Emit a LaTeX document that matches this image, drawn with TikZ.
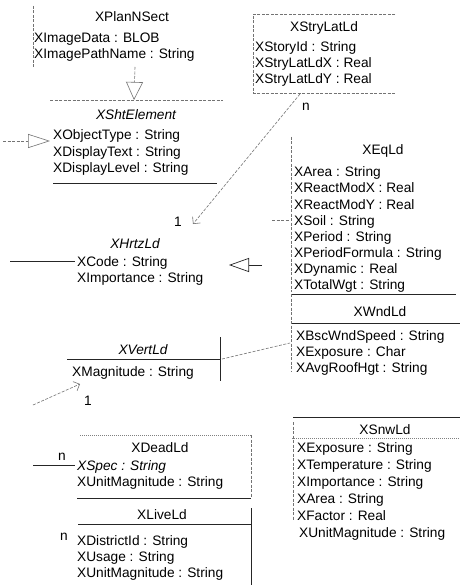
\documentclass[tikz,border=0pt]{standalone}
\usepackage{fontspec}
\setmainfont{Liberation Sans}
\usetikzlibrary{arrows.meta}
\begin{document}
\begin{tikzpicture}[x=1pt,y=-1pt,
  txt/.style={anchor=base west,inner sep=0pt,font=\fontsize{13.7}{16}\selectfont},
  itxt/.style={txt,font=\fontsize{13.7}{16}\selectfont\itshape},
  ttl/.style={anchor=base,inner sep=0pt,font=\fontsize{13.7}{16}\selectfont},
  ittl/.style={ttl,font=\fontsize{13.7}{16}\selectfont\itshape},
  faint/.style={draw=black!55,line width=0.6pt,dash pattern=on 3pt off 1.5pt},
  dotln/.style={draw=black!50,line width=0.6pt,dash pattern=on 1pt off 1pt},
  solidln/.style={draw=black!85,line width=0.7pt},
  gendown/.style={-{Triangle[open,length=18pt,width=17pt]}},
  genleft/.style={-{Triangle[open,length=22pt,width=14pt]}},
  genhrtz/.style={-{Triangle[open,length=20pt,width=14pt]}},
  assoc/.style={-{Straight Barb[length=5pt]}}
]
\useasboundingbox (0,0) rectangle (470,585);
\fill[white] (0,0) rectangle (470,585);

% XPlanNSect
\draw[faint] (33,6) -- (33,67);
\node[ttl] (planT) at (132,22) {XPlanNSect};
\node[txt] (planA1) at (34,43) {XImageData : BLOB};
\node[txt] (planA2) at (34,59) {XImagePathName : String};
\coordinate (planBot) at (135,67);
\coordinate (shtTop) at (134,100);
\draw[faint,gendown] (planBot) -- (shtTop);

% XShtElement
\draw[faint] (50,100) -- (223,100);
\node[ittl] (shtT) at (136,120) {XShtElement};
\node[txt] (shtA1) at (53,140) {XObjectType : String};
\node[txt] (shtA2) at (53,157) {XDisplayText : String};
\node[txt] (shtA3) at (53,173) {XDisplayLevel : String};
\draw[solidln] (53,183) -- (217,183);
\coordinate (shtLsrc) at (3,141);
\coordinate (shtL) at (50,141);
\draw[faint,genleft] (shtLsrc) -- (shtL);

% XStryLatLd
\draw[faint] (395,14) -- (253,14) -- (253,93) -- (395,93);
\node[ttl] (stryT) at (324,32) {XStryLatLd};
\node[txt] (stryA1) at (255,52) {XStoryId : String};
\node[txt] (stryA2) at (255,68) {XStryLatLdX : Real};
\node[txt] (stryA3) at (255,84) {XStryLatLdY : Real};
\node[ttl] (stryN) at (306,111) {n};
\coordinate (stryBot) at (300,94);
\coordinate (hrtzTip) at (193,224);
\draw[faint,assoc] (stryBot) -- (hrtzTip);
\node[ttl] (hrtzOne) at (178,226) {1};

% XHrtzLd
\node[ittl] (hrtzT) at (135,248) {XHrtzLd};
\node[txt] (hrtzA1) at (77,266) {XCode : String};
\node[txt] (hrtzA2) at (77,282) {XImportance : String};
\coordinate (hrtzLsrc) at (10,261);
\coordinate (hrtzL) at (75,261);
\draw[solidln] (hrtzLsrc) -- (hrtzL);
\coordinate (eqGenSrc) at (262,265);
\coordinate (hrtzGenTip) at (229,265);
\draw[solidln,genhrtz] (eqGenSrc) -- (hrtzGenTip);

% XEqLd
\draw[faint] (291,137) -- (291,292);
\node[ttl] (eqT) at (383,155) {XEqLd};
\node[txt] (eqA1) at (294,177) {XArea : String};
\node[txt] (eqA2) at (294,193) {XReactModX : Real};
\node[txt] (eqA3) at (294,209) {XReactModY : Real};
\node[txt] (eqA4) at (294,225) {XSoil : String};
\node[txt] (eqA5) at (294,241) {XPeriod : String};
\node[txt] (eqA6) at (294,257) {XPeriodFormula : String};
\node[txt] (eqA7) at (294,273) {XDynamic : Real};
\node[txt] (eqA8) at (294,289) {XTotalWgt : String};
\draw[solidln] (291,294) -- (456,294);
\coordinate (soilStubA) at (272,220);
\coordinate (soilStubB) at (289,220);
\draw[faint] (soilStubA) -- (soilStubB);

% XWndLd
\draw[faint] (291,294) -- (291,372);
\node[ttl] (wndT) at (380,316) {XWndLd};
\draw[solidln] (292,323) -- (460,323);
\node[txt] (wndA1) at (296,340) {XBscWndSpeed : String};
\node[txt] (wndA2) at (296,356) {XExposure : Char};
\node[txt] (wndA3) at (296,372) {XAvgRoofHgt : String};

% XVertLd
\node[ittl] (vertT) at (143,354) {XVertLd};
\draw[solidln] (67,359) -- (220,359);
\draw[solidln] (220,337) -- (220,381);
\node[txt] (vertA1) at (72,376) {XMagnitude : String};
\coordinate (vertR) at (222,359);
\coordinate (wndL) at (290,343);
\draw[faint] (vertR) -- (wndL);
\coordinate (vAsrc) at (33,405);
\coordinate (vAtip) at (80,384);
\draw[faint,assoc] (vAsrc) -- (vAtip);
\node[ttl] (vertOne) at (88,405) {1};

% XSnwLd
\draw[solidln] (293,417) -- (460,417);
\node[ttl] (snwT) at (385,434) {XSnwLd};
\draw[dotln] (292,438) -- (460,438);
\draw[faint] (293,422) -- (293,520);
\node[txt] (snwA1) at (297,452) {XExposure : String};
\node[txt] (snwA2) at (297,469) {XTemperature : String};
\node[txt] (snwA3) at (297,486) {XImportance : String};
\node[txt] (snwA4) at (297,503) {XArea : String};
\node[txt] (snwA5) at (297,520) {XFactor : Real};
\node[txt] (snwA6) at (299,537) {XUnitMagnitude : String};

% XDeadLd
\draw[dotln] (80,435) -- (251,435);
\draw[faint] (251,435) -- (251,498);
\draw[solidln] (77,498) -- (251,498);
\node[ttl] (deadT) at (160,452) {XDeadLd};
\node[ttl] (deadN) at (62,460) {n};
\coordinate (deadLsrc) at (33,465);
\coordinate (deadL) at (75,465);
\draw[solidln] (deadLsrc) -- (deadL);
\node[itxt] (deadA1) at (77,470) {XSpec : String};
\node[txt] (deadA2) at (77,486) {XUnitMagnitude : String};

% XLiveLd
\node[ttl] (liveT) at (162,519) {XLiveLd};
\draw[solidln] (78,524) -- (251,524);
\draw[solidln] (251,508) -- (251,585);
\node[ttl] (liveN) at (64,540) {n};
\node[txt] (liveA1) at (77,545) {XDistrictId : String};
\node[txt] (liveA2) at (77,561) {XUsage : String};
\node[txt] (liveA3) at (77,577) {XUnitMagnitude : String};
\end{tikzpicture}
\end{document}
